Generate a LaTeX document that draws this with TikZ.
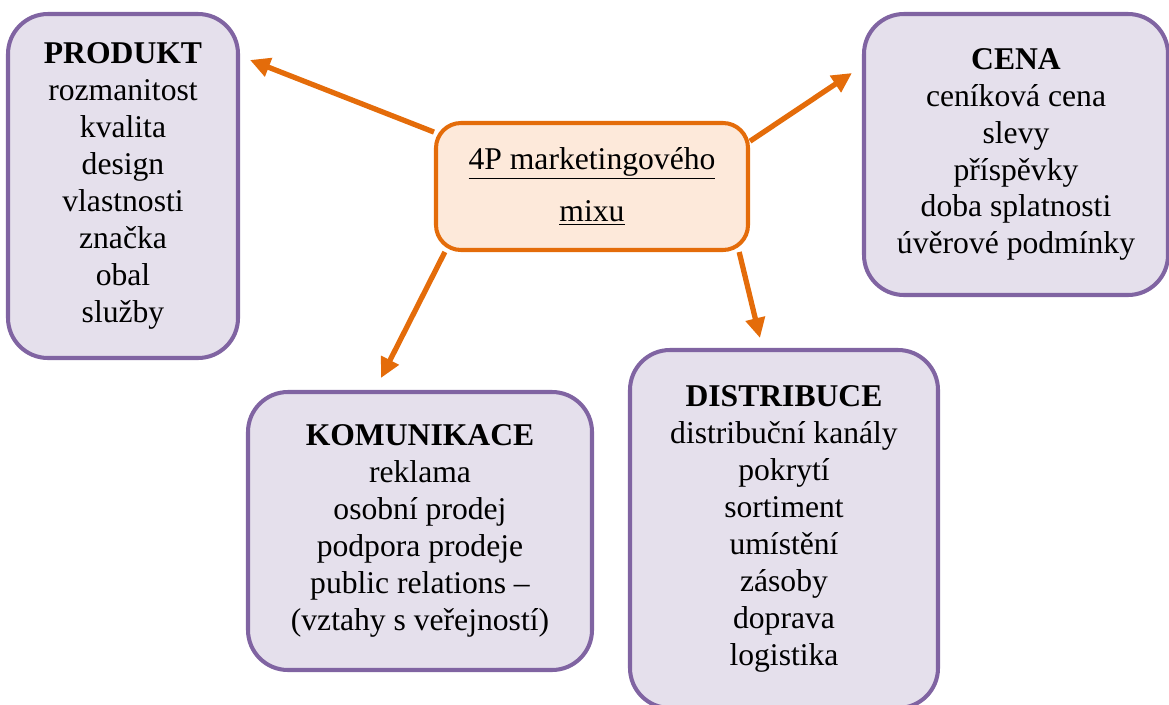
\documentclass[tikz,border=0pt]{standalone}
\usepackage{fontspec}
\setmainfont{Liberation Serif}
\usetikzlibrary{arrows.meta}
\definecolor{boxline}{HTML}{8064A2}
\definecolor{boxfill}{HTML}{E5E0EC}
\definecolor{mixline}{HTML}{E46C0A}
\definecolor{mixfill}{HTML}{FDE9DA}
\tikzset{
  pbox/.style={draw=boxline,fill=boxfill,line width=2.3pt,rounded corners=0.8cm,align=center,
    font=\fontsize{18}{21}\selectfont,inner sep=0pt},
  mixbox/.style={draw=mixline,fill=mixfill,line width=2.3pt,rounded corners=0.5cm,align=center,
    font=\fontsize{18}{30}\selectfont,inner sep=0pt,minimum width=6.24cm,minimum height=2.54cm},
  mixarrow/.style={draw=mixline,line width=3pt,-{Triangle[length=0.4cm,width=0.38cm]}}
}
\begin{document}
\begin{tikzpicture}
        \useasboundingbox (0,0) rectangle (23.38,-14.08);
        %% center
        \node[mixbox] (mix) at (11.84,-3.73) {\underline{4P marketingového}\\\underline{mixu}};
        %% the four P
        \node[pbox,minimum width=4.6cm,minimum height=6.88cm] (produkt) at (2.46,-3.72)
          {\textbf{PRODUKT}\\rozmanitost\\kvalita\\design\\vlastnosti\\značka\\obal\\služby};
        \node[pbox,minimum width=6.08cm,minimum height=5.62cm] (cena) at (20.32,-3.09)
          {\textbf{CENA}\\ceníková cena\\slevy\\příspěvky\\doba splatnosti\\úvěrové podmínky};
        \node[pbox,minimum width=6.88cm,minimum height=5.56cm] (komunikace) at (8.4,-10.62)
          {\textbf{KOMUNIKACE}\\reklama\\osobní prodej\\podpora prodeje\\public relations –\\(vztahy s veřejností)};
        \node[pbox,minimum width=6.16cm,minimum height=7.16cm] (distribuce) at (15.68,-10.58)
          {\textbf{DISTRIBUCE}\\distribuční kanály\\pokrytí\\sortiment\\umístění\\zásoby\\doprava\\logistika};
        %% arrow tips
        \coordinate (tipP) at (5.0,-1.2);
        \coordinate (tipC) at (17.04,-1.46);
        \coordinate (tipK) at (7.62,-7.56);
        \coordinate (tipD) at (15.2,-6.76);
        %% arrows
        \draw[mixarrow] (mix.161) -- (tipP);
        \draw[mixarrow] (mix.16) -- (tipC);
        \draw[mixarrow] (mix.204) -- (tipK);
        \draw[mixarrow] (mix.336) -- (tipD);
    \end{tikzpicture}
\end{document}
